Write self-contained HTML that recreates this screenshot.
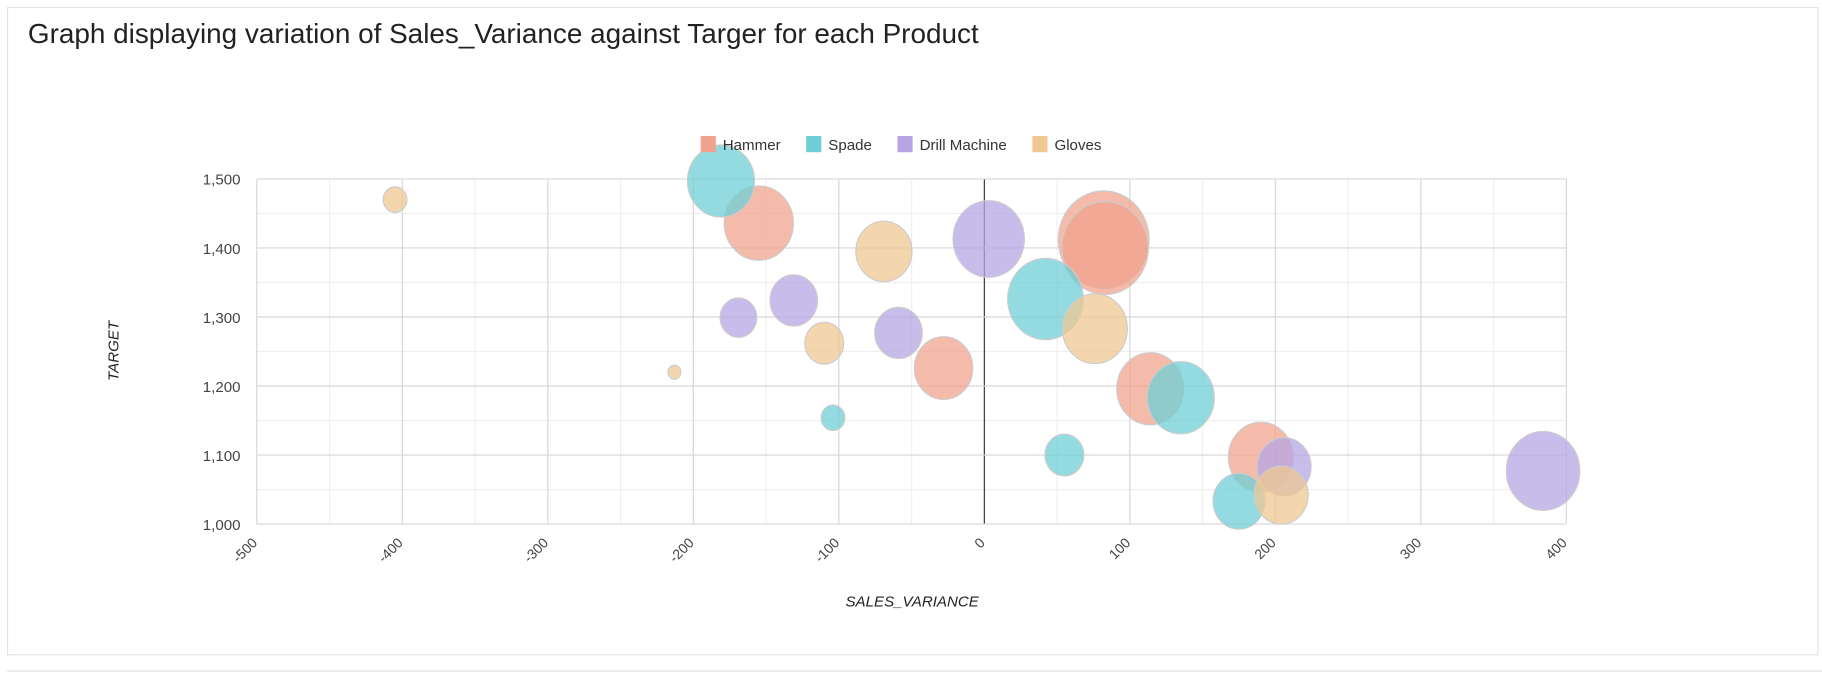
<!DOCTYPE html>
<html><head><meta charset="utf-8"><style>
body{margin:0;width:1822px;height:680px;background:#fff;font-family:"Liberation Sans",Arial,sans-serif;overflow:hidden;position:relative}
#wrap{position:absolute;left:0;top:0;width:1568px;height:585px;transform:scale(1.162);transform-origin:0 0}
.card{position:absolute;left:6px;top:6px;width:1557px;height:556px;border:1px solid #e3e3e3;background:#fff}
.title{position:absolute;left:24px;top:16px;font-size:24px;color:#222}
.sep{position:absolute;left:6px;top:577px;width:1562px;height:1px;background:#e0e0e0}
</style></head><body>
<div id="wrap">
<div class="card"></div>
<div class="title">Graph displaying variation of Sales_Variance against Targer for each Product</div>
<div class="sep"></div>
<svg id="chart" width="1568" height="585" style="position:absolute;left:0;top:0"></svg>
</div>
<script>
const seriesNames=["Hammer","Spade","Drill Machine","Gloves"];
const seriesColors=["#f0a38e","#6fcfd6","#b6a5e3","#efc893"];
const hammerX=[-155,-28,82,83,114,190];
const hammerY=[1436,1226,1412,1400,1196,1097];
const hammerR=[32,27,42,40,31,30];
const spadeX=[-181,-104,42,55,135,175];
const spadeY=[1497,1154,1326,1100,1183,1033];
const spadeR=[31,11,35,18,31,24];
const drillX=[-169,-131,-59,3,206,384];
const drillY=[1299,1324,1277,1413,1083,1077];
const drillR=[17,22,22,33,25,34];
const glovesX=[-405,-213,-110,-69,76,204];
const glovesY=[1470,1220,1262,1395,1283,1042];
const glovesR=[11,6,18,26,30,25];
const xTicks=[-500,-400,-300,-200,-100,0,100,200,300,400];
const yTicks=[1000,1100,1200,1300,1400,1500];
const NS="http://www.w3.org/2000/svg";
const svg=document.getElementById('chart');
const L=221,R=1348,T=154,B=451;
const xs=v=>L+(v+500)/900*(R-L);
const ys=v=>B-(v-1000)/500*(B-T);
function mk(t,a){const e=document.createElementNS(NS,t);for(const k in a)e.setAttribute(k,a[k]);svg.appendChild(e);return e;}
for(let v=-450;v<400;v+=100){const l=mk('line',{x1:xs(v),x2:xs(v),y1:T,y2:B,stroke:'#efefef'});

}
for(let v=1050;v<1500;v+=100){const l=mk('line',{x1:L,x2:R,y1:ys(v),y2:ys(v),stroke:'#efefef'});

}
xTicks.forEach(v=>{const l=mk('line',{x1:xs(v),x2:xs(v),y1:T,y2:B,stroke:v==0?'#333':'#d6d6d6'});


const x=xs(v),y=B+14;
const t=mk('text',{x:x,y:y,'font-size':12,fill:'#444','text-anchor':'end',transform:`rotate(-45 ${x+4} ${y})`});
t.textContent=v;

});
yTicks.forEach(v=>{const l=mk('line',{x1:L,x2:R,y1:ys(v),y2:ys(v),stroke:'#d6d6d6'});


const t=mk('text',{x:L-14,y:ys(v)+5,'font-size':13,fill:'#444','text-anchor':'end'});
t.textContent=v.toLocaleString('en-US');

});
const data=[[hammerX,hammerY,hammerR],[spadeX,spadeY,spadeR],[drillX,drillY,drillR],[glovesX,glovesY,glovesR]];
data.forEach((s,i)=>{s[0].forEach((x,j)=>{const e=mk('ellipse',{cx:xs(x),cy:ys(s[1][j]),rx:s[2][j]*0.93,ry:s[2][j],fill:seriesColors[i],'fill-opacity':0.75,stroke:'#ccc','stroke-width':1});

});});
let lx=603;
seriesNames.forEach((n,i)=>{const r=mk('rect',{x:lx,y:117,width:13,height:14,fill:seriesColors[i]});


const t=mk('text',{x:lx+19,y:129,'font-size':13,fill:'#333'});t.textContent=n;


lx+=19+t.getComputedTextLength()+22;});
const ya=mk('text',{x:0,y:0,'font-size':13,fill:'#222','font-style':'italic','text-anchor':'middle',transform:'translate(102 302) rotate(-90)'});
ya.textContent='TARGET';


const xa=mk('text',{x:785,y:522,'font-size':13,fill:'#222','font-style':'italic','text-anchor':'middle'});
xa.textContent='SALES_VARIANCE';


</script>
</body></html>
